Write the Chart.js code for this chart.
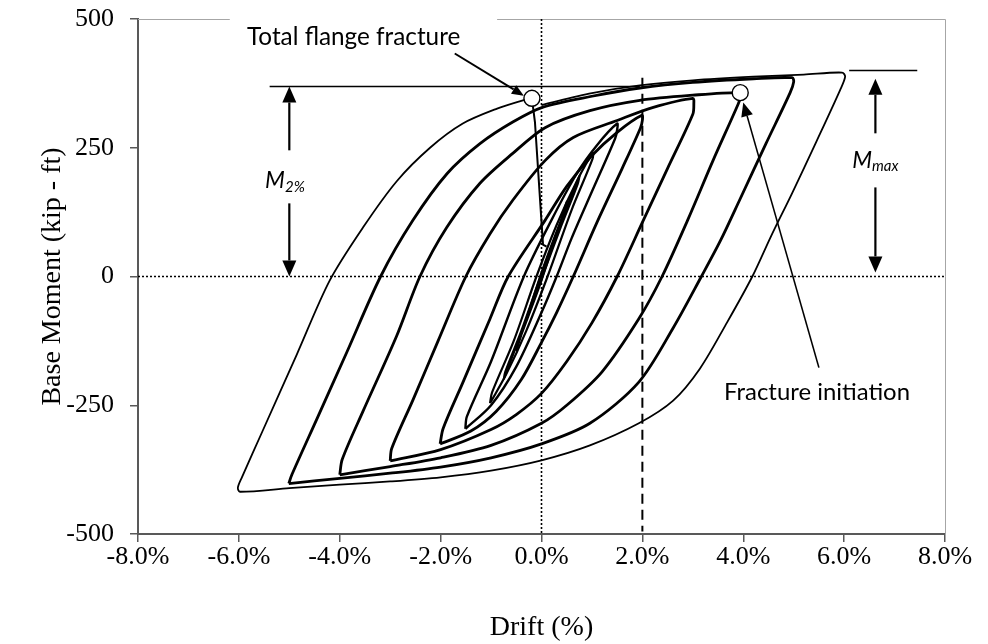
<!DOCTYPE html>
<html>
<head>
<meta charset="utf-8">
<script src="https://cdn.jsdelivr.net/npm/chart.js@4.4.1/dist/chart.umd.min.js"></script>
<style>
  html, body { margin: 0; padding: 0; background: #fff; }
</style>
</head>
<body>
<canvas id="hyst" width="988" height="644"></canvas>
<script>
// axis ticks
var driftTicks = [-8, -6, -4, -2, 0, 2, 4, 6, 8];
var momentTicks = [-500, -250, 0, 250, 500];

// hysteresis loops, [drift %, base moment kip-ft]
var loop6 = [[0.0,333],[1.0,356],[1.95,371],[3.0,381],[4.2,388],[5.2,392],[5.96,396],
  [6.02,388],[5.92,362],[5.45,262],[4.97,162],[4.55,78],[4.18,0],[3.68,-89],[3.14,-179],
  [2.61,-241],[1.93,-285],[0.96,-328],[0.0,-357],[-1.0,-377],[-2.0,-390],[-3.0,-398],
  [-4.0,-404],[-5.0,-411],[-5.98,-418],[-6.02,-410],[-5.94,-390],[-5.53,-300],[-4.85,-151],
  [-4.2,-8],[-3.54,95],[-2.87,185],[-2.21,250],[-1.56,297],[-0.88,326],[-0.37,342],[-0.19,346]];
var loop5 = [[-5.01,-402],[-4.95,-385],[-4.45,-276],[-3.86,-147],[-3.19,0],[-2.55,109],
  [-1.87,200],[-1.22,258],[-0.57,300],[0.03,329],[1.0,350],[1.95,366],[3.0,377],[4.2,384],
  [4.97,386],[5.0,378],[4.93,357],[4.45,258],[3.94,151],[3.55,70],[3.17,0],[2.61,-100],
  [1.93,-205],[0.96,-285],[0.0,-325],[-1.0,-352],[-2.0,-370],[-3.0,-382],[-4.0,-392],[-5.01,-402]];
var loop4 = [[-4.0,-385],[-3.95,-355],[-3.54,-262],[-2.87,-115],[-2.41,0],[-1.88,95],
  [-1.22,181],[-0.57,239],[0.07,289],[0.96,322],[1.95,342],[3.0,352],[3.94,357],[3.95,350],
  [3.9,335],[3.4,225],[2.9,110],[2.39,0],[1.93,-82],[1.2,-185],[0.5,-250],[0.0,-285],
  [-1.0,-328],[-2.0,-352],[-3.0,-369],[-4.0,-385]];
var loop3 = [[-3.0,-358],[-2.97,-334],[-2.55,-240],[-2.05,-125],[-1.5,0],[-1.02,83],
  [-0.57,148],[0.07,225],[0.63,270],[1.5,303],[2.2,328],[3.0,346],[3.02,335],[3.0,315],
  [2.5,210],[2.0,105],[1.5,0],[1.0,-90],[0.5,-165],[0.0,-227],[-0.5,-268],[-1.0,-297],
  [-2.0,-336],[-3.0,-358]];
var loop2 = [[-2.01,-325],[-1.95,-295],[-1.56,-206],[-1.02,-82],[-0.66,0],[0.07,109],
  [0.5,175],[1.0,235],[1.5,280],[1.99,313],[2.0,303],[1.96,288],[1.6,210],[1.1,105],
  [0.63,0],[0.3,-70],[0.0,-128],[-0.4,-200],[-0.9,-262],[-1.4,-300],[-2.01,-325]];
var loop15 = [[-1.51,-296],[-1.48,-272],[-1.0,-165],[-0.35,0],[0.2,110],[0.7,200],
  [1.1,255],[1.5,297],[1.5,285],[1.46,268],[1.0,165],[0.6,75],[0.3,0],[0.0,-70],
  [-0.5,-175],[-1.0,-250],[-1.51,-296]];
var loop1 = [[-1.02,-246],[-0.98,-225],[-0.55,-125],[-0.1,0],[0.3,100],[0.7,185],
  [1.02,240],[1.01,228],[0.6,130],[0.12,0],[-0.3,-105],[-0.7,-190],[-1.02,-246]];
var loop075 = [[-0.75,-200],[-0.72,-185],[-0.4,-105],[-0.02,0],[0.4,110],[0.75,195],
  [0.72,180],[0.4,100],[0.02,0],[-0.4,-110],[-0.75,-200]];
var loop05 = [[-0.5,-145],[-0.48,-135],[0.0,-8],[0.5,145],[0.48,135],[0.0,8],[-0.5,-145]];
// moment drop after the flange fractured
var dropAfter = [[-0.19,346],[-0.13,300],[0.03,62],[0.1,58]];
// fracture points (open circles)
var fracturePts = [[-0.19,346],[3.94,357]];

function pts(arr) {
  return arr.map(function (p) { return {x: p[0], y: p[1]}; });
}

function loopSet(arr, w) {
  return {data: pts(arr), showLine: true, borderColor: '#000', borderWidth: w,
    pointRadius: 0, tension: 0.3, fill: false};
}

// annotation anchors in data units
var notes = {
  flangeText: [-5.84, 464], flangeArrow: [-1.72, 433, -0.35, 351],
  initText: [3.62, -225], initArrow: [5.5, -177, 4.0, 338],
  m2Line: [-5.39, 1.95, 369], m2X: -5.0, m2Text: [-5.48, 186],
  mmaxLine: [6.1, 7.45, 400], mmaxX: 6.62, mmaxText: [6.16, 225],
  topGap: [-6.18, -0.88], dash2: [2, 386, -495]
};

function arrow(ctx, x1, y1, x2, y2, len, half) {
  var a = Math.atan2(y2 - y1, x2 - x1);
  var bx = x2 - len * Math.cos(a), by = y2 - len * Math.sin(a);
  ctx.beginPath();
  ctx.moveTo(x1, y1);
  ctx.lineTo(bx, by);
  ctx.stroke();
  ctx.beginPath();
  ctx.moveTo(x2, y2);
  ctx.lineTo(bx + half * Math.sin(a), by - half * Math.cos(a));
  ctx.lineTo(bx - half * Math.sin(a), by + half * Math.cos(a));
  ctx.closePath();
  ctx.fill();
}

function fitSize(ctx, text, width, font) {
  ctx.font = '20px ' + font;
  return 20 * width / ctx.measureText(text).width;
}

var annot = {
  id: 'annot',
  beforeDatasetsDraw: function (chart) {
    var ctx = chart.ctx, a = chart.chartArea, x = chart.scales.x, y = chart.scales.y;
    ctx.save();
    ctx.strokeStyle = '#a6a6a6';
    ctx.lineWidth = 1;
    ctx.beginPath();
    ctx.moveTo(a.left, a.top + 0.5);
    ctx.lineTo(x.getPixelForValue(notes.topGap[0]), a.top + 0.5);
    ctx.moveTo(x.getPixelForValue(notes.topGap[1]), a.top + 0.5);
    ctx.lineTo(a.right + 0.5, a.top + 0.5);
    ctx.lineTo(a.right + 0.5, a.bottom);
    ctx.stroke();

    ctx.strokeStyle = '#000';
    ctx.lineWidth = 1.6;
    ctx.setLineDash([2, 2]);
    var x0 = x.getPixelForValue(0), y0 = y.getPixelForValue(0);
    ctx.beginPath();
    ctx.moveTo(x0, a.top);
    ctx.lineTo(x0, a.bottom);
    ctx.moveTo(a.left, y0);
    ctx.lineTo(a.right, y0);
    ctx.stroke();

    ctx.setLineDash([10, 6]);
    ctx.lineWidth = 2;
    var xd = x.getPixelForValue(notes.dash2[0]);
    ctx.beginPath();
    ctx.moveTo(xd, y.getPixelForValue(notes.dash2[1]));
    ctx.lineTo(xd, y.getPixelForValue(notes.dash2[2]));
    ctx.stroke();
    ctx.restore();
  },
  afterDatasetsDraw: function (chart) {
    var ctx = chart.ctx, x = chart.scales.x, y = chart.scales.y;
    var px = function (v) { return x.getPixelForValue(v); };
    var py = function (v) { return y.getPixelForValue(v); };
    var sans = 'Lato, "Open Sans", sans-serif';
    ctx.save();
    ctx.fillStyle = '#000';
    ctx.strokeStyle = '#000';

    // dimension lines
    ctx.lineWidth = 1.6;
    ctx.beginPath();
    ctx.moveTo(px(notes.m2Line[0]), py(notes.m2Line[2]));
    ctx.lineTo(px(notes.m2Line[1]), py(notes.m2Line[2]));
    ctx.moveTo(px(notes.mmaxLine[0]), py(notes.mmaxLine[2]));
    ctx.lineTo(px(notes.mmaxLine[1]), py(notes.mmaxLine[2]));
    ctx.stroke();

    ctx.lineWidth = 2.2;
    var xm = px(notes.m2X);
    arrow(ctx, xm, py(245), xm, py(369), 16, 7);
    arrow(ctx, xm, py(142), xm, py(0), 16, 7);
    var xx = px(notes.mmaxX);
    arrow(ctx, xx, py(278), xx, py(384), 16, 7);
    arrow(ctx, xx, py(173), xx, py(8), 16, 7);

    // pointer arrows
    ctx.lineWidth = 2;
    var f = notes.flangeArrow;
    arrow(ctx, px(f[0]), py(f[1]), px(f[2]), py(f[3]), 12, 5);
    ctx.lineWidth = 1.6;
    var g = notes.initArrow;
    arrow(ctx, px(g[0]), py(g[1]), px(g[2]), py(g[3]), 14, 6);

    // labels
    ctx.textBaseline = 'middle';
    ctx.textAlign = 'left';
    var t1 = 'Total flange fracture';
    ctx.font = fitSize(ctx, t1, 213, sans).toFixed(1) + 'px ' + sans;
    ctx.fillText(t1, px(notes.flangeText[0]), py(notes.flangeText[1]));
    var t2 = 'Fracture initiation';
    ctx.font = fitSize(ctx, t2, 186, sans).toFixed(1) + 'px ' + sans;
    ctx.fillText(t2, px(notes.initText[0]), py(notes.initText[1]));

    function mLabel(pos, sub) {
      var lx = px(pos[0]), ly = py(pos[1]);
      ctx.font = 'italic 23px ' + sans;
      ctx.fillText('M', lx, ly);
      var w = ctx.measureText('M').width;
      ctx.font = 'italic 15px ' + sans;
      ctx.fillText(sub, lx + w, ly + 6);
    }
    mLabel(notes.m2Text, '2%');
    mLabel(notes.mmaxText, 'max');
    ctx.restore();
  }
};

var serif = '"Liberation Serif", "Times New Roman", serif';
var axisGray = '#595959';

new Chart(document.getElementById('hyst'), {
  type: 'scatter',
  data: {
    datasets: [
      {data: pts(fracturePts), pointRadius: 8, pointBackgroundColor: '#fff',
        pointBorderColor: '#000', pointBorderWidth: 1.4, showLine: false},
      {data: pts(dropAfter), showLine: true, borderColor: '#000', borderWidth: 2,
        pointRadius: 0, tension: 0},
      loopSet(loop6, 1.8),
      loopSet(loop5, 2.8),
      loopSet(loop4, 2.8),
      loopSet(loop3, 2.8),
      loopSet(loop2, 2.8),
      loopSet(loop15, 2.4),
      loopSet(loop1, 2.2),
      loopSet(loop075, 2),
      loopSet(loop05, 2)
    ]
  },
  options: {
    responsive: false,
    devicePixelRatio: 1,
    animation: false,
    layout: {padding: {left: 0, right: 43, top: 19, bottom: 0}},
    plugins: {legend: {display: false}, tooltip: {enabled: false}},
    scales: {
      x: {
        type: 'linear', min: -8, max: 8,
        afterBuildTicks: function (s) { s.ticks = driftTicks.map(function (v) { return {value: v}; }); },
        afterFit: function (s) { s.height = 110; s.paddingLeft = 0; s.paddingRight = 0; },
        ticks: {color: '#000', font: {family: serif, size: 26}, padding: 0,
          callback: function (v) { return v.toFixed(1) + '%'; }},
        grid: {drawOnChartArea: false, color: axisGray, lineWidth: 1.5, tickLength: 8},
        border: {color: axisGray, width: 2},
        title: {display: true, text: 'Drift (%)', color: '#000',
          font: {family: serif, size: 28}, padding: {top: 0, bottom: 0}}
      },
      y: {
        type: 'linear', min: -500, max: 500,
        afterBuildTicks: function (s) { s.ticks = momentTicks.map(function (v) { return {value: v}; }); },
        afterFit: function (s) { s.width = 138; s.paddingTop = 0; s.paddingBottom = 0; },
        ticks: {color: '#000', font: {family: serif, size: 26}, padding: 16},
        grid: {drawOnChartArea: false, color: axisGray, lineWidth: 1.5, tickLength: 8},
        border: {color: axisGray, width: 2},
        title: {display: true, text: 'Base Moment (kip - ft)', color: '#000',
          font: {family: serif, size: 28}, padding: {top: 36, bottom: 0}}
      }
    }
  },
  plugins: [annot]
});
</script>
</body>
</html>
